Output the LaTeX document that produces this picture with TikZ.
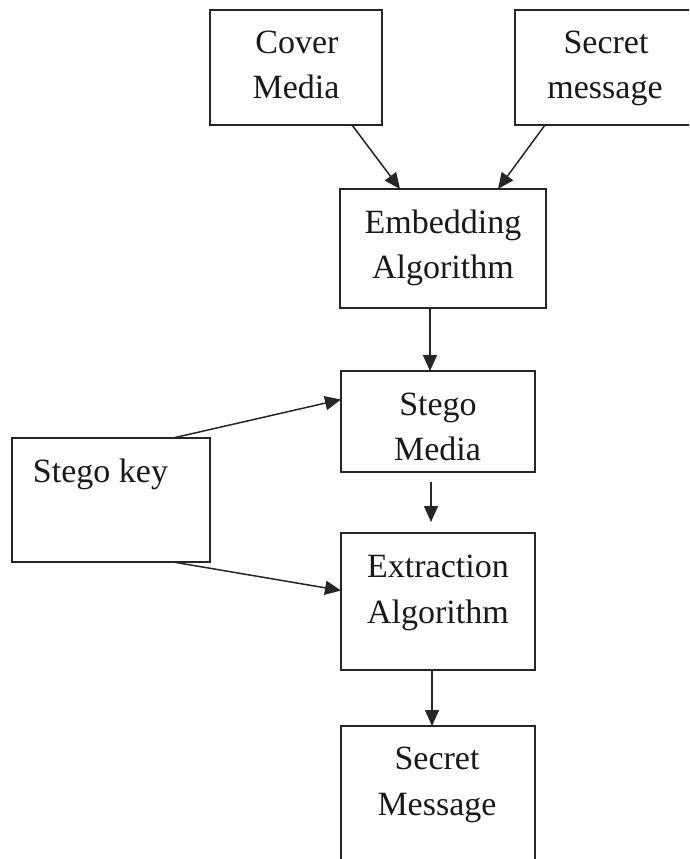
\documentclass[tikz,border=0pt]{standalone}
\usepackage{fontspec}
\setmainfont{Liberation Serif}
\usetikzlibrary{arrows.meta}
\begin{document}
\begin{tikzpicture}[x=1pt,y=-1pt,
  box/.style={draw=black!85,line width=1.6pt,rectangle,inner sep=0pt,outer sep=0pt},
  lbl/.style={anchor=base,inner sep=0pt,font=\fontsize{34}{45}\selectfont,text=black!90},
  arr/.style={draw=black!85,line width=1.5pt,-{Triangle[length=16pt,width=14pt]}}]
\useasboundingbox (0,0) rectangle (689,859);
\clip (0,0) rectangle (689,859);
\fill[white] (0,0) rectangle (689,859);
% boxes
\node[box,minimum width=172pt,minimum height=115pt] (cover) at (296,67.5) {};
\node[box,minimum width=205pt,minimum height=115pt] (secret) at (617.5,67.5) {};
\node[box,minimum width=206pt,minimum height=119pt] (emb) at (443,248.5) {};
\node[box,minimum width=194pt,minimum height=101pt] (stego) at (438,421.5) {};
\node[box,minimum width=198pt,minimum height=124pt] (key) at (111,500) {};
\node[box,minimum width=194pt,minimum height=137pt] (extr) at (438,601.5) {};
\node[box,minimum width=194pt,minimum height=154pt] (smsg) at (438,803) {};
% labels
\node[lbl] (t1) at (297,53) {Cover};
\node[lbl] (t2) at (296,99) {Media};
\node[lbl] (t3) at (606,53) {Secret};
\node[lbl] (t4) at (605,98) {message};
\node[lbl] (t5) at (443,233) {Embedding};
\node[lbl] (t6) at (443,278) {Algorithm};
\node[lbl] (t7) at (438,415) {Stego};
\node[lbl] (t8) at (437.5,460) {Media};
\node[lbl] (t9) at (100.5,482) {Stego key};
\node[lbl] (t10) at (438,577) {Extraction};
\node[lbl] (t11) at (438,623) {Algorithm};
\node[lbl] (t12) at (437,769) {Secret};
\node[lbl] (t13) at (437,815) {Message};
% connectors
\draw[arr] ([xshift=56pt]cover.south) -- ([xshift=-43pt]emb.north);
\draw[arr] ([xshift=30pt]secret.south west) -- ([xshift=55pt]emb.north);
\draw[arr] ([xshift=-13pt]emb.south) -- ([xshift=-8pt]stego.north);
\draw[arr] ([xshift=-7pt,yshift=-10pt]stego.south) -- ([xshift=-7pt,yshift=11pt]extr.north);
\draw[arr] ([xshift=62pt]key.north) -- ([yshift=22pt]stego.west);
\draw[arr] ([xshift=62pt]key.south) -- ([yshift=11pt]extr.west);
\draw[arr] ([xshift=-6pt]extr.south) -- ([xshift=-6pt]smsg.north);
\end{tikzpicture}
\end{document}
